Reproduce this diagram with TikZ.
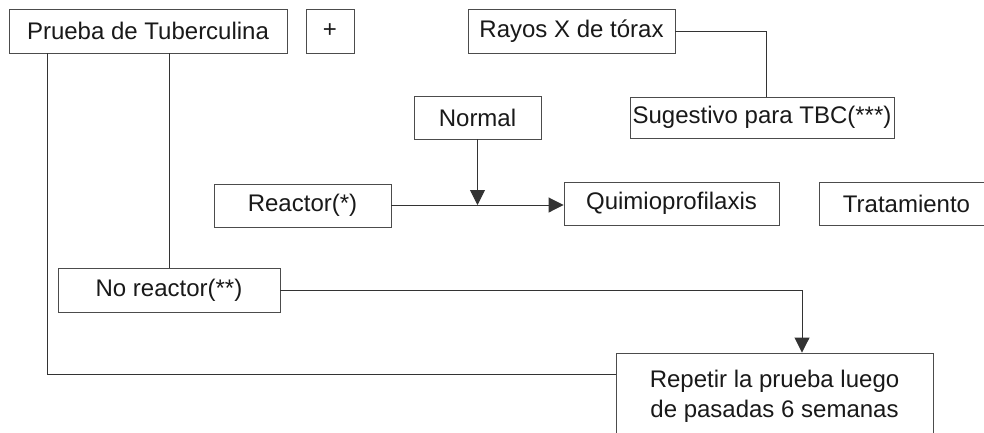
\documentclass[tikz,border=0pt]{standalone}
\usepackage{fontspec}
\setmainfont{Liberation Sans}
\usetikzlibrary{arrows.meta}
\begin{document}
\begin{tikzpicture}[x=1pt,y=-1pt,
  box/.style={draw=black!70,line width=0.9pt,inner sep=0pt,font=\fontsize{24}{30}\selectfont,text=black!90,align=center},
  conn/.style={draw=black!80,line width=0.9pt},
  arr/.style={conn,-{Triangle[length=15pt,width=15pt]}}]
\useasboundingbox (0,0) rectangle (984,432);
\clip (0,0) rectangle (984,432);
\fill[white] (0,0) rectangle (984,432);
\node[box,minimum width=278pt,minimum height=44pt] (Prueba) at (148,31) {Prueba de Tuberculina};
\node[box,minimum width=48pt,minimum height=44pt] (Plus) at (330,31) {+};
\node[box,minimum width=207pt,minimum height=44pt] (Rayos) at (571.5,31) {Rayos X de tórax};
\node[box,minimum width=264pt,minimum height=41pt] (Sug) at (762,117.5) {Sugestivo para TBC(***)};
\node[box,minimum width=127pt,minimum height=43pt] (Normal) at (477.5,117.5) {Normal};
\node[box,minimum width=177pt,minimum height=43pt] (Reactor) at (302.5,205.5) {Reactor(*)};
\node[box,minimum width=215pt,minimum height=43pt] (Quimio) at (671.5,203.5) {Quimioprofilaxis};
\node[box,minimum width=175pt,minimum height=43pt] (Trat) at (906.5,203.5) {Tratamiento};
\node[box,minimum width=222pt,minimum height=44pt] (NoR) at (169,290) {No reactor(**)};
\node[box,minimum width=317pt,minimum height=86pt] (Rep) at (774.5,396) {Repetir la prueba luego\\de pasadas 6 semanas};
\coordinate (xL) at (47,0);
\coordinate (yL) at (0,374);
\coordinate (xR) at (766,0);
\coordinate (xN) at (802,0);
\coordinate (yQ) at (0,205);
\draw[conn] (Prueba.south -| xL) |- (Rep.west |- yL);
\draw[conn] (NoR.north |- Prueba.south) -- (NoR.north);
\draw[conn] (Rayos.east) -| (Sug.north -| xR);
\draw[arr] (Normal.south) -- (Normal.south |- yQ);
\draw[arr] (Reactor.east |- yQ) -- (Quimio.west |- yQ);
\draw[arr] (NoR.east) -| (Rep.north -| xN);
\end{tikzpicture}
\end{document}
